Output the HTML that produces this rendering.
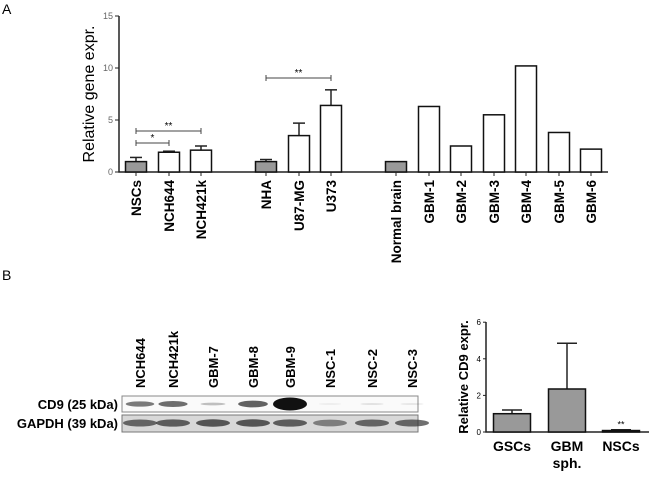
<!DOCTYPE html>
<html><head><meta charset="utf-8"><style>
body{margin:0;background:#fff;}
svg text{font-family:"Liberation Sans",Arial,sans-serif;}
</style></head><body>
<svg id="fig" width="650" height="480" viewBox="0 0 650 480" xmlns="http://www.w3.org/2000/svg">
<text x="2" y="14" font-size="14">A</text>
<text x="2" y="280" font-size="14">B</text>
<g id="chartA"></g>
<g id="blot"></g>
<g id="chartB"></g>
</svg>
<script>
const catsA=["NSCs","NCH644","NCH421k","NHA","U87-MG","U373","Normal brain","GBM-1","GBM-2","GBM-3","GBM-4","GBM-5","GBM-6"];
const valsA=[1.0,1.9,2.1,1.0,3.5,6.4,1.0,6.3,2.5,5.5,10.2,3.8,2.2];
const errA=[0.4,0.1,0.4,0.2,1.2,1.5,0,0,0,0,0,0,0];
const greyA=[1,0,0,1,0,0,1,0,0,0,0,0,0];
const ticksA=[0,5,10,15];
const catsB=["GSCs","GBM","NSCs"];
const catsB2=["","sph.",""];
const valsB=[1.0,2.35,0.08];
const errB=[0.2,2.5,0.04];
const ticksB=[0,2,4,6];
const lanes=["NCH644","NCH421k","GBM-7","GBM-8","GBM-9","NSC-1","NSC-2","NSC-3"];
const cd9=[0.55,0.6,0.25,0.65,1.0,0.05,0.1,0.08];
const gapdh=[0.7,0.75,0.8,0.8,0.75,0.55,0.7,0.7];

const NS="http://www.w3.org/2000/svg";
function mk(p,t,a){const e=document.createElementNS(NS,t);for(const k in a)e.setAttribute(k,a[k]);p.appendChild(e);return e;}

// Chart A
const A=document.getElementById('chartA');
const yA=v=>172-v*10.4;
const posA=[136,169,201,266,299,331,396,429,461,494,526,559,591];
const xA=i=>posA[i];
let ax=mk(A,'path',{d:'M119,16V172H608',fill:'none',stroke:'#222','stroke-width':1.5});

ticksA.forEach(t=>{
 mk(A,'line',{x1:115,x2:119,y1:yA(t),y2:yA(t),stroke:'#222'});
 const tx=mk(A,'text',{x:113,y:yA(t)+3,'font-size':9,'text-anchor':'end',fill:'#666'});tx.textContent=t;
 
});
let yt=mk(A,'text',{transform:'translate(94,94) rotate(-90)','font-size':16,'text-anchor':'middle'});yt.textContent='Relative gene expr.';

catsA.forEach((c,i)=>{
 const x=xA(i),w=21;
 if(errA[i]>0){mk(A,'line',{x1:x,x2:x,y1:yA(valsA[i]),y2:yA(valsA[i]+errA[i]),stroke:'#222','stroke-width':1.5});
  mk(A,'line',{x1:x-6,x2:x+6,y1:yA(valsA[i]+errA[i]),y2:yA(valsA[i]+errA[i]),stroke:'#222','stroke-width':1.5});}
 const r=mk(A,'rect',{x:x-w/2,y:yA(valsA[i]),width:w,height:yA(0)-yA(valsA[i]),fill:greyA[i]?'#999':'#fff',stroke:'#111','stroke-width':1.5});
 
 mk(A,'line',{x1:x,x2:x,y1:172,y2:176,stroke:'#222'});
 const t=mk(A,'text',{transform:`translate(${x+5},180) rotate(-90)`,'font-size':13.5,'font-weight':'bold','text-anchor':'end'});t.textContent=c;
 
});
[[0,1,143,'*'],[0,2,131,'**'],[3,5,78,'**']].forEach(b=>{
 const x1=xA(b[0]),x2=xA(b[1]);
 mk(A,'path',{d:`M${x1},${b[2]-3}v6M${x1},${b[2]}H${x2}M${x2},${b[2]-3}v6`,stroke:'#444',fill:'none'});
 const t=mk(A,'text',{x:(x1+x2)/2,y:b[2]-2,'font-size':10,'text-anchor':'middle'});t.textContent=b[3];
 
});

// Blot
const B=document.getElementById('blot');
const laneX=[140,173,213,253,290,330,372,412];
lanes.forEach((l,i)=>{
 const t=mk(B,'text',{transform:`translate(${laneX[i]+5},388) rotate(-90)`,'font-size':13,'font-weight':'bold'});t.textContent=l;
 
});
let l1=mk(B,'text',{x:118,y:409,'font-size':13,'font-weight':'bold','text-anchor':'end'});l1.textContent='CD9 (25 kDa)';

let l2=mk(B,'text',{x:118,y:428,'font-size':13,'font-weight':'bold','text-anchor':'end'});l2.textContent='GAPDH (39 kDa)';

mk(B,'rect',{x:122,y:396,width:296,height:16,fill:'#fafafa',stroke:'#888'});
mk(B,'rect',{x:122,y:415,width:296,height:17,fill:'#d8d8d8',stroke:'#777'});
lanes.forEach((l,i)=>{
 const c=cd9[i];
 const e=mk(B,'ellipse',{cx:laneX[i],cy:404,rx:11+c*6,ry:1+c*c*5.5,fill:'#111','fill-opacity':c});
 
 const g=mk(B,'ellipse',{cx:laneX[i],cy:423,rx:17,ry:2.5+gapdh[i]*1.5,fill:'#333','fill-opacity':gapdh[i]});
 
});

// Chart B
const C=document.getElementById('chartB');
const yB=v=>432-v*18.3;
const posB=[512,567,621];
mk(C,'path',{d:'M486,322V432H649',fill:'none',stroke:'#222','stroke-width':1.5});
ticksB.forEach(t=>{
 mk(C,'line',{x1:483,x2:486,y1:yB(t),y2:yB(t),stroke:'#222'});
 const tx=mk(C,'text',{x:481,y:yB(t)+3,'font-size':8,'text-anchor':'end'});tx.textContent=t;
 
});
let yb=mk(C,'text',{transform:'translate(468,377) rotate(-90)','font-size':13,'font-weight':'bold','text-anchor':'middle'});yb.textContent='Relative CD9 expr.';

catsB.forEach((c,i)=>{
 const x=posB[i],w=37;
 mk(C,'line',{x1:x,x2:x,y1:yB(valsB[i]),y2:yB(valsB[i]+errB[i]),stroke:'#222','stroke-width':1.5});
 mk(C,'line',{x1:x-10,x2:x+10,y1:yB(valsB[i]+errB[i]),y2:yB(valsB[i]+errB[i]),stroke:'#222','stroke-width':1.5});
 const r=mk(C,'rect',{x:x-w/2,y:yB(valsB[i]),width:w,height:yB(0)-yB(valsB[i]),fill:'#999',stroke:'#111','stroke-width':1.5});
 
 const t=mk(C,'text',{x:x,y:451,'font-size':14,'font-weight':'bold','text-anchor':'middle'});t.textContent=c;
 
 if(catsB2[i]){const t2=mk(C,'text',{x:x,y:468,'font-size':14,'font-weight':'bold','text-anchor':'middle'});t2.textContent=catsB2[i];
 }
});
let s=mk(C,'text',{x:posB[2],y:yB(0.2)-1,'font-size':9,'text-anchor':'middle'});s.textContent='**';

</script>
</body></html>
